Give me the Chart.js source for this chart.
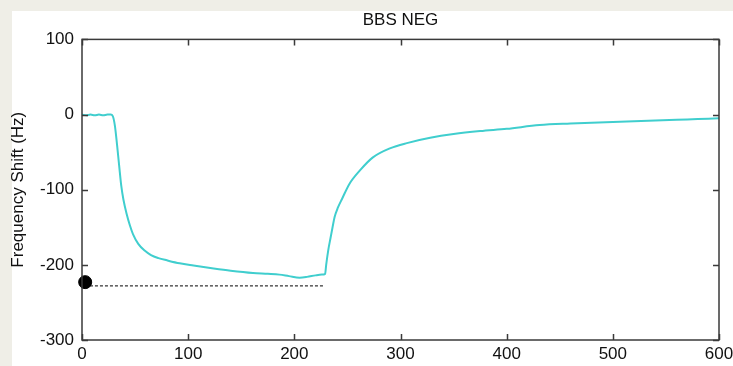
<!DOCTYPE html>
<html>
<head>
<meta charset="utf-8">
<script src="https://cdn.jsdelivr.net/npm/chart.js@4.4.0/dist/chart.umd.min.js"></script>
<style>
  html, body { margin: 0; padding: 0; background: #efeee7; }
  #wrap { position: absolute; left: 0; top: 0; width: 733px; height: 366px; }
</style>
</head>
<body>
<div id="wrap"><canvas id="grafico" width="733" height="366"></canvas></div>
<script>
// datos
const tiempo = [0, 4, 8, 12, 16, 20, 24, 27, 29, 31, 33, 35, 37, 39, 42, 45, 48, 53, 59, 65, 72, 80, 92, 105, 124, 140, 161, 175, 186, 195, 205, 212, 220, 226, 229,
                230, 232, 234, 236, 238, 241, 245, 252, 262, 274, 290, 306, 328, 350, 375, 400, 431, 460, 480, 500, 520, 540, 560, 580, 600];
const frecuencia = [0, -1, 0, -1, 0, -1, 0, 0, -2, -15, -40, -68, -95, -113, -132, -147, -159, -172, -181, -187, -191, -194, -198, -201, -205, -208, -211, -212, -213, -215, -217, -216, -214, -213, -212,
                    -200, -180, -165, -150, -136, -124, -112, -92, -74, -57, -45, -38, -31, -26, -22, -19, -14, -12, -11, -10, -9, -8, -7, -6, -5];
const marcadorX = [3];
const marcadorY = [-223];
const lineaX = [7.5, 227];
const lineaY = [-228, -228];
const ticksX = [0, 100, 200, 300, 400, 500, 600];
const ticksY = [-300, -200, -100, 0, 100];

const fuente = "'Liberation Sans', Arial, sans-serif";

const panelPlugin = {
    id: 'panel',
    beforeDraw(chart) {
        const ctx = chart.ctx;
        ctx.save();
        ctx.fillStyle = '#efeee7';
        ctx.fillRect(0, 0, chart.width, chart.height);
        ctx.fillStyle = '#ffffff';
        ctx.fillRect(12, 11, chart.width - 12, chart.height - 11);
        ctx.restore();
    },
    afterDatasetsDraw(chart) {
        const ctx = chart.ctx;
        const a = chart.chartArea;
        const sx = chart.scales.x, sy = chart.scales.y;
        const largo = 6;
        ctx.save();
        ctx.strokeStyle = '#3a3a3a';
        ctx.lineWidth = 1.5;
        ctx.beginPath();
        sx.ticks.forEach(t => {
            const px = Math.round(sx.getPixelForValue(t.value)) + 0.5;
            ctx.moveTo(px, a.bottom); ctx.lineTo(px, a.bottom - largo);
            ctx.moveTo(px, a.top); ctx.lineTo(px, a.top + largo);
        });
        sy.ticks.forEach(t => {
            const py = Math.round(sy.getPixelForValue(t.value)) + 0.5;
            ctx.moveTo(a.left, py); ctx.lineTo(a.left + largo, py);
            ctx.moveTo(a.right, py); ctx.lineTo(a.right - largo, py);
        });
        ctx.stroke();
        ctx.strokeRect(a.left, a.top, a.right - a.left, a.bottom - a.top);
        ctx.restore();
    }
};

const ctx = document.getElementById('grafico').getContext('2d');
new Chart(ctx, {
    type: 'line',
    data: {
        datasets: [
            {
                data: tiempo.map((t, i) => ({ x: t, y: frecuencia[i] })),
                borderColor: 'rgb(64, 206, 206)',
                borderWidth: 2,
                pointRadius: 0,
                cubicInterpolationMode: 'monotone'
            },
            {
                data: lineaX.map((t, i) => ({ x: t, y: lineaY[i] })),
                borderColor: '#000000',
                borderWidth: 1,
                borderDash: [3, 2],
                pointRadius: 0
            },
            {
                data: marcadorX.map((t, i) => ({ x: t, y: marcadorY[i] })),
                showLine: false,
                pointRadius: 6.5,
                pointBackgroundColor: '#000000',
                pointBorderColor: '#000000',
                clip: false
            }
        ]
    },
    options: {
        responsive: false,
        animation: false,
        layout: { padding: { left: 0, right: 14, top: 0, bottom: 0 } },
        plugins: {
            legend: { display: false },
            tooltip: { enabled: false },
            title: {
                display: true,
                text: 'BBS NEG',
                fullSize: false,
                color: '#111111',
                font: { family: fuente, size: 17, weight: 'normal' },
                padding: { top: 10, bottom: 9 }
            }
        },
        scales: {
            x: {
                type: 'linear',
                min: 0, max: 600,
                afterFit(scale) {
                    scale.height = 26;
                    scale.paddingLeft = 0;
                    scale.paddingRight = 0;
                },
                afterBuildTicks(scale) { scale.ticks = ticksX.map(v => ({ value: v })); },
                grid: { display: false, drawTicks: false },
                border: { display: false },
                ticks: {
                    color: '#111111',
                    padding: 4,
                    maxRotation: 0,
                    font: { family: fuente, size: 17 }
                }
            },
            y: {
                type: 'linear',
                min: -300, max: 100,
                afterFit(scale) { scale.width = 82; },
                afterBuildTicks(scale) { scale.ticks = ticksY.map(v => ({ value: v })); },
                grid: { display: false, drawTicks: false },
                border: { display: false },
                ticks: {
                    color: '#111111',
                    padding: 8,
                    font: { family: fuente, size: 17 }
                },
                title: {
                    display: true,
                    text: 'Frequency Shift (Hz)',
                    color: '#111111',
                    font: { family: fuente, size: 17 },
                    padding: { top: 8, bottom: 0 }
                }
            }
        }
    },
    plugins: [panelPlugin]
});
</script>
</body>
</html>
